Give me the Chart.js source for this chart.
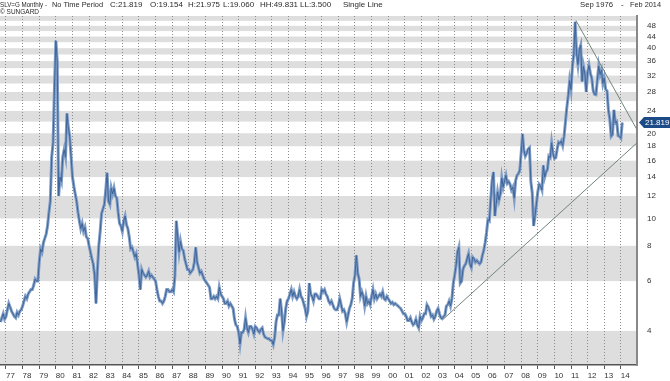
<!DOCTYPE html>
<html lang="en">
<head>
<meta charset="UTF-8">
<title>SLV=G Monthly</title>
<style>
  *{box-sizing:border-box}
  body{margin:0;background:#fff}
  #wrap{position:relative;width:670px;height:381px}
</style>
<script src="https://cdn.jsdelivr.net/npm/chart.js@4.4.1/dist/chart.umd.min.js"></script>
</head>
<body>
<div id="wrap"><canvas id="silver-chart" width="670" height="381"></canvas></div>
<script>
// Monthly closes, Sep 1976 .. Feb 2014
const firstMonth = 1976 + 8 / 12;

const closes1970s = [
  4.30, 4.45, 4.60, 4.40,                                               // 1976 Sep-Dec
  4.50, 4.75, 5.00, 4.85, 4.70, 4.60, 4.50, 4.45, 4.65, 4.55, 4.70, 4.75, // 1977
  4.90, 5.10, 5.30, 5.20, 5.40, 5.50, 5.60, 5.60, 5.80, 6.10, 6.00, 6.00, // 1978
  7.00, 7.80, 7.60, 8.20, 8.50, 8.80, 9.40, 10.5, 11.5, 16.5, 18.5, 29.0  // 1979
];
const closes1980s = [
  42.5, 36.0, 12.0, 14.0, 13.5, 16.5, 17.5, 16.5, 23.5, 21.0, 19.5, 16.5, // 1980
  14.0, 13.0, 12.2, 11.5, 10.5, 9.80, 9.20, 9.60, 9.00, 9.30, 8.60, 8.50, // 1981
  8.00, 7.60, 7.20, 6.90, 6.30, 5.00, 6.50, 8.00, 9.00, 10.4, 10.8, 11.2, // 1982
  12.5, 14.5, 11.5, 11.2, 12.8, 12.2, 12.8, 12.0, 11.8, 10.5, 9.60, 9.40, // 1983
  9.00, 9.80, 10.2, 9.50, 9.20, 8.60, 7.80, 7.90, 7.60, 7.30, 7.50, 6.90, // 1984
  6.30, 5.60, 6.60, 6.40, 6.30, 6.20, 6.30, 6.50, 6.20, 6.30, 6.20, 6.10, // 1985
  6.00, 5.60, 5.30, 5.10, 5.10, 5.00, 5.10, 5.30, 5.60, 5.60, 5.50, 5.50, // 1986
  5.60, 5.50, 6.30, 9.80, 8.60, 7.60, 8.30, 7.80, 7.70, 7.20, 6.90, 6.60, // 1987
  6.60, 6.40, 6.50, 6.60, 7.00, 7.90, 7.00, 6.70, 6.40, 6.50, 6.30, 6.10, // 1988
  6.00, 5.90, 5.80, 5.70, 5.20, 5.20, 5.30, 5.20, 5.30, 5.20, 5.70, 5.40  // 1989
];
const closes1990s = [
  5.30, 5.20, 5.00, 5.00, 5.10, 4.90, 5.00, 4.90, 4.80, 4.40, 4.20, 4.15, // 1990
  3.95, 3.60, 3.95, 3.95, 4.05, 4.45, 4.10, 3.95, 4.15, 4.15, 4.05, 3.90, // 1991
  4.15, 4.10, 4.00, 3.95, 4.05, 4.10, 3.90, 3.80, 3.78, 3.75, 3.75, 3.70, // 1992
  3.70, 3.58, 3.80, 4.30, 4.55, 4.55, 5.20, 4.70, 4.00, 4.30, 4.80, 5.10, // 1993
  5.20, 5.40, 5.60, 5.30, 5.50, 5.30, 5.20, 5.30, 5.60, 5.30, 5.20, 5.00, // 1994
  4.80, 4.50, 4.70, 5.90, 5.40, 5.30, 5.10, 5.40, 5.40, 5.30, 5.20, 5.20, // 1995
  5.60, 5.50, 5.60, 5.40, 5.30, 5.10, 5.00, 5.10, 4.95, 4.80, 4.75, 4.75, // 1996
  4.90, 5.20, 4.95, 4.70, 4.75, 4.60, 4.30, 4.55, 4.80, 4.95, 5.20, 5.90, // 1997
  6.30, 7.40, 6.40, 6.10, 5.30, 5.50, 5.30, 4.90, 5.30, 5.00, 5.10, 4.95, // 1998
  5.30, 5.60, 5.20, 5.40, 5.20, 5.30, 5.40, 5.30, 5.50, 5.20, 5.15, 5.30  // 1999
];
const closes2000s = [
  5.20, 5.10, 5.00, 5.05, 4.95, 5.00, 4.95, 4.90, 4.85, 4.80, 4.70, 4.60, // 2000
  4.60, 4.50, 4.35, 4.35, 4.45, 4.30, 4.20, 4.25, 4.40, 4.20, 4.10, 4.50, // 2001
  4.35, 4.45, 4.60, 4.60, 4.95, 4.85, 4.70, 4.50, 4.55, 4.40, 4.50, 4.70, // 2002
  4.80, 4.60, 4.45, 4.42, 4.50, 4.55, 4.90, 4.95, 5.10, 4.90, 5.20, 5.90, // 2003
  6.30, 6.80, 7.60, 7.90, 5.90, 6.00, 6.60, 6.80, 6.90, 7.20, 7.50, 6.90, // 2004
  6.70, 7.30, 7.20, 7.00, 7.10, 7.00, 6.90, 7.00, 7.40, 7.70, 8.20, 8.90, // 2005
  9.90, 9.80, 11.6, 13.6, 14.6, 10.2, 11.3, 12.4, 11.6, 12.2, 13.9, 12.9, // 2006
  13.6, 14.2, 13.3, 13.5, 13.2, 12.6, 12.9, 11.8, 13.6, 14.2, 14.4, 14.8, // 2007
  17.0, 19.9, 17.4, 16.6, 17.0, 17.6, 17.8, 13.5, 12.3, 9.40, 10.2, 11.2, // 2008
  12.4, 13.2, 13.0, 12.6, 15.4, 14.0, 14.6, 14.9, 16.6, 16.4, 18.5, 17.0  // 2009
];
const closes2010s = [
  16.3, 16.4, 17.6, 18.6, 18.4, 18.8, 18.1, 19.5, 22.0, 24.7, 27.2, 30.7, // 2010
  28.5, 34.5, 38.0, 49.6, 38.5, 35.0, 39.5, 41.0, 30.5, 34.5, 32.5, 28.0, // 2011
  33.0, 34.8, 32.6, 31.3, 28.3, 27.5, 27.4, 30.8, 34.6, 32.3, 33.5, 30.0, // 2012
  31.4, 28.6, 28.3, 24.2, 22.4, 19.5, 19.8, 24.2, 21.8, 22.0, 19.6, 19.5, // 2013
  19.2, 21.819                                                            // 2014 Jan-Feb
];

// Trend lines [year, price]
const trendDown = [[2011.30, 50.1], [2014.97, 20.6]];
const trendUp = [[2003.33, 4.41], [2014.97, 18.5]];

// Axis ticks
const yearTicks = [];
for (let yr = 1977; yr <= 2014; yr++) yearTicks.push(yr);
const priceTicks = [4, 6, 8, 10, 12, 14, 16, 18, 20, 22, 24, 26, 28, 30, 32, 34, 36, 38, 40, 42, 44, 46, 48, 50, 52];
const priceLabels = [4, 6, 8, 10, 12, 14, 16, 18, 20, 24, 28, 32, 36, 40, 44, 48];

const closes = [].concat(closes1970s, closes1980s, closes1990s, closes2000s, closes2010s);
const lastClose = closes[closes.length - 1];
const points = closes.map((v, i) => ({x: firstMonth + i / 12, y: v}));

const FONT = '"Liberation Sans", Arial, sans-serif';
Chart.defaults.font.family = FONT;
Chart.defaults.font.size = 8;
Chart.defaults.color = '#333';

// Grey bands between every other pair of price ticks
const bands = {
    id: 'bands',
    beforeDraw(chart) {
        const {ctx, chartArea, scales: {y}} = chart;
        ctx.save();
        ctx.fillStyle = '#dedede';
        const edges = [[y.min, 4]];
        for (let v = 6; v < 52; v += 4) edges.push([v, v + 2]);
        edges.forEach(([lo, hi]) => {
            const top = y.getPixelForValue(hi);
            const bottom = y.getPixelForValue(lo);
            ctx.fillRect(chartArea.left, top, chartArea.right - chartArea.left, bottom - top);
        });
        ctx.restore();
    }
};

// Last price tag on the right axis
const priceTag = {
    id: 'priceTag',
    afterDraw(chart) {
        const {ctx, chartArea, scales: {y}} = chart;
        const py = y.getPixelForValue(lastClose);
        const x0 = chartArea.right + 2;
        ctx.save();
        ctx.fillStyle = '#1d4b87';
        ctx.beginPath();
        ctx.moveTo(x0, py);
        ctx.lineTo(x0 + 5, py - 5.5);
        ctx.lineTo(chart.width, py - 5.5);
        ctx.lineTo(chart.width, py + 5.5);
        ctx.lineTo(x0 + 5, py + 5.5);
        ctx.closePath();
        ctx.fill();
        ctx.fillStyle = '#fff';
        ctx.font = '8px ' + FONT;
        ctx.textBaseline = 'middle';
        ctx.fillText(lastClose.toFixed(3), x0 + 6, py + 0.5);
        ctx.restore();
    }
};

// Header lines: [text, x, max width]
const headerParts = [
    ['SLV=G Monthly -', 0, 47], ['No Time Period', 52, 51], ['C:21.819', 110, 34], ['O:19.154', 150, 34],
    ['H:21.975', 188, 32], ['L:19.060', 223, 33], ['HH:49.831', 260, 38], ['LL:3.500', 300, 38], ['Single Line', 343, 46]
];
const header = {
    id: 'header',
    afterDraw(chart) {
        const ctx = chart.ctx;
        ctx.save();
        ctx.fillStyle = '#2a2a2a';
        ctx.font = '8px ' + FONT;
        ctx.textBaseline = 'alphabetic';
        headerParts.forEach(([t, x, w]) => ctx.fillText(t, x, 7, w));
        ctx.fillText('\u00a9 SUNGARD', 0, 13.5, 39);
        ctx.fillText('Sep 1976', 580, 7, 33);
        ctx.fillText('-', 621, 7);
        ctx.fillText('Feb 2014', 630, 7, 31);
        ctx.restore();
    }
};

const ctx = document.getElementById('silver-chart').getContext('2d');
new Chart(ctx, {
    type: 'line',
    data: {
        datasets: [{
            label: 'SLV=G',
            data: points,
            borderColor: '#7f9dc6',
            borderWidth: 3,
            pointRadius: 0,
            tension: 0,
            order: 3
        }, {
            label: 'SLV=G core',
            data: points,
            borderColor: '#3e6499',
            borderWidth: 1,
            pointRadius: 0,
            tension: 0,
            order: 2
        }, {
            label: 'Down trend',
            data: trendDown.map(([x, y]) => ({x, y})),
            borderColor: '#72857a',
            borderWidth: 1,
            pointRadius: 0,
            order: 1
        }, {
            label: 'Up trend',
            data: trendUp.map(([x, y]) => ({x, y})),
            borderColor: '#72857a',
            borderWidth: 1,
            pointRadius: 0,
            order: 1
        }]
    },
    options: {
        responsive: false,
        devicePixelRatio: 1,
        animation: false,
        events: [],
        layout: {padding: {top: 16, left: 0, right: 0, bottom: 0}},
        plugins: {legend: {display: false}, tooltip: {enabled: false}},
        scales: {
            x: {
                type: 'linear',
                min: 1976.639,
                max: 2014.971,
                afterBuildTicks: scale => { scale.ticks = yearTicks.map(v => ({value: v})); },
                afterFit: scale => { scale.height = 16; },
                ticks: {
                    autoSkip: false,
                    maxRotation: 0,
                    align: 'start',
                    padding: 2,
                    color: '#333',
                    callback: v => String(v % 100).padStart(2, '0')
                },
                grid: {
                    color: '#8c8c8c',
                    lineWidth: 1,
                    tickLength: 4,
                    tickColor: '#555',
                    tickBorderDash: []
                },
                border: {display: true, color: '#555', width: 1.5, dash: [1, 2]}
            },
            y: {
                type: 'logarithmic',
                position: 'right',
                min: 3.03,
                max: 52,
                afterBuildTicks: scale => { scale.ticks = priceTicks.map(v => ({value: v})); },
                afterFit: scale => { scale.width = 33; },
                ticks: {
                    autoSkip: false,
                    padding: 2,
                    color: '#333',
                    callback: v => priceLabels.includes(v) ? String(v) : ''
                },
                grid: {display: false},
                border: {display: true, color: '#888', width: 2}
            }
        }
    },
    plugins: [bands, priceTag, header]
});
</script>
</body>
</html>
